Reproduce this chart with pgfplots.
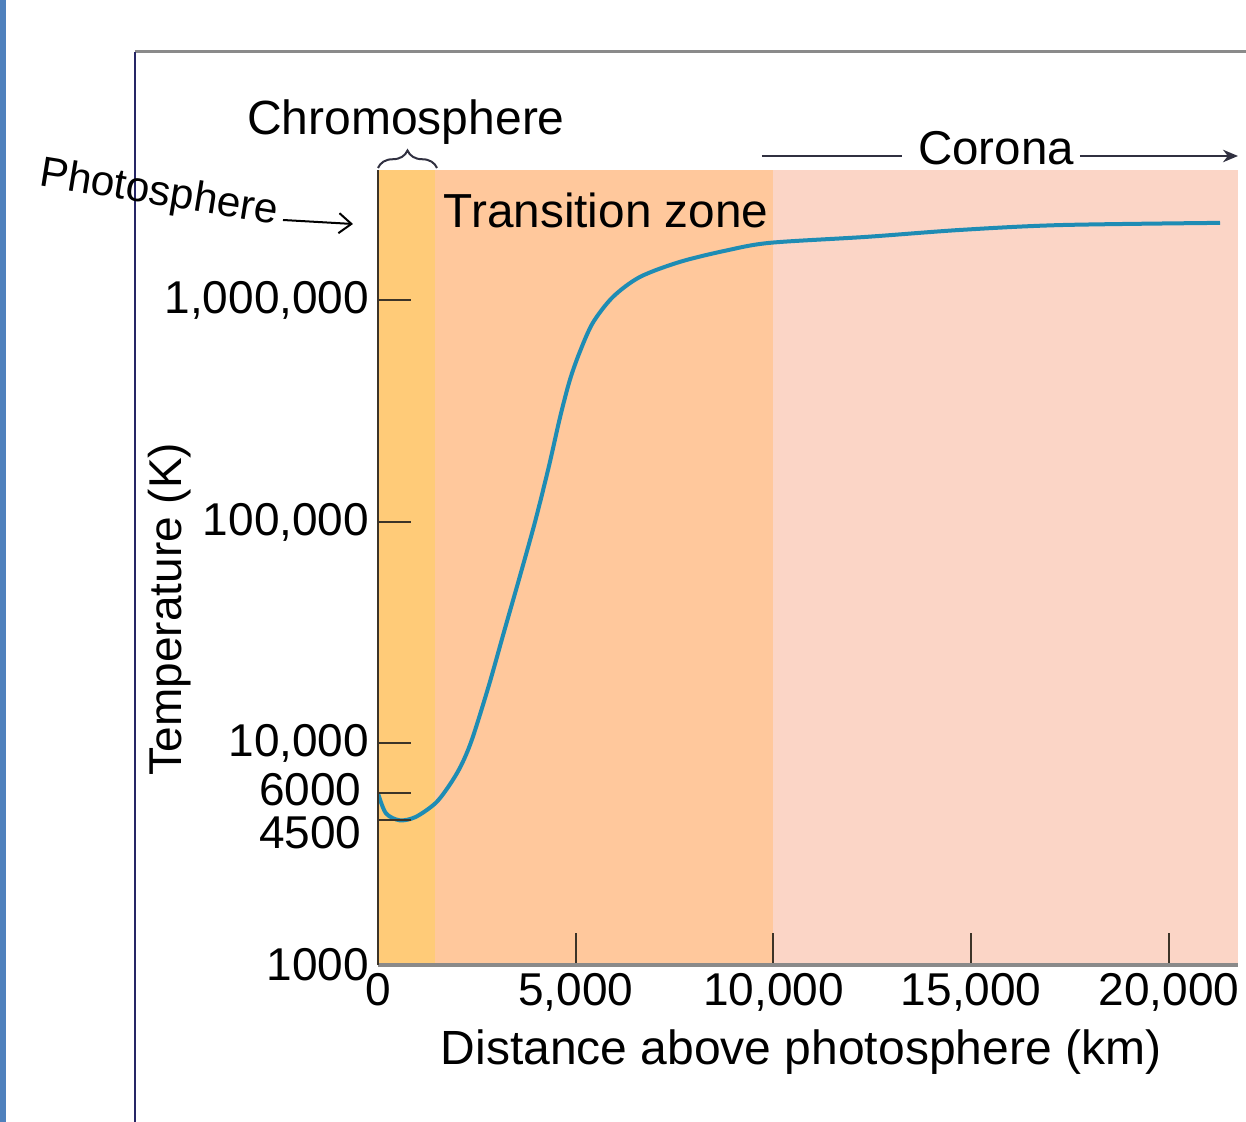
\documentclass[border=0pt]{standalone}
\usepackage{fontspec}
\setmainfont{Liberation Sans}
\usepackage{pgfplots}
\pgfplotsset{compat=1.18}
\usetikzlibrary{arrows.meta,decorations.pathreplacing}

\definecolor{chromo}{HTML}{FFCB78}
\definecolor{trans}{HTML}{FFC89C}
\definecolor{corona}{HTML}{FBD5C6}
\definecolor{curve}{HTML}{1E8CB4}
\definecolor{frameblue}{HTML}{4F81BD}
\definecolor{axisgray}{HTML}{8A8A8A}
\definecolor{axisdark}{HTML}{3C3428}
\definecolor{linedark}{HTML}{303040}

\begin{document}
\begin{tikzpicture}
\path[use as bounding box] (0,0) rectangle (498.4pt,448.8pt);

\begin{axis}[
  at={(151.2pt,62.8pt)}, anchor=south west,
  scale only axis, width=344pt, height=318pt,
  ymode=log, xmin=0, xmax=21745, ymin=1000, ymax=3.88e6,
  axis x line=bottom, axis y line=left,
  x axis line style={-, draw=axisgray, line width=1.4pt},
  y axis line style={-, draw=axisdark, line width=0.9pt},
  tick align=inside, major tick length=13pt,
  tick style={draw=axisdark, line width=0.8pt},
  yminorticks=false, xminorticks=false,
  scaled x ticks=false,
  xtick={0,5000,10000,15000,20000},
  xticklabels={0,{5,000},{10,000},{15,000},{20,000}},
  ytick={1000,4500,6000,10000,100000,1000000},
  yticklabels={1000,{},{},{10,000},{100,000},{1,000,000}},
  tick label style={font=\fontsize{18.4pt}{22pt}\selectfont},
  axis on top,
]
% regions
\addplot[draw=none, fill=chromo] coordinates {(0,1000) (1441,1000) (1441,3.88e6) (0,3.88e6)} -- cycle;
\addplot[draw=none, fill=trans] coordinates {(1441,1000) (10000,1000) (10000,3.88e6) (1441,3.88e6)} -- cycle;
\addplot[draw=none, fill=corona] coordinates {(10000,1000) (21745,1000) (21745,3.88e6) (10000,3.88e6)} -- cycle;

% temperature profile
\addplot[color=curve, line width=1.6pt, smooth, tension=0.5] coordinates {
  (0,5957) (200,4842) (550,4498) (950,4656) (1450,5370) (1800,6457)
  (2100,7943) (2380,10471) (2800,18197) (3180,31623) (3580,56234)
  (3970,100000) (4320,177828) (4600,295121) (4850,436516) (5108,588844)
  (5436,794328) (5942,1037528) (6625,1276439) (7636,1492794)
  (8800,1678804) (9912,1819701) (12364,1936422) (14716,2079697)
  (17244,2187762) (21290,2238721)
};
\end{axis}

\begin{scope}[x=0.4pt,y=0.4pt]
% page frame
\fill[frameblue] (0,0) rectangle (6,1122);
\draw[color=axisgray, line width=1.2pt] (135,1070) -- (1246,1070);
\draw[color=linedark!80!blue, line width=0.8pt] (135,1070) -- (135,0);

% tick labels set apart from their ticks, as in the figure
\node[anchor=east, inner sep=0pt, font=\fontsize{18.4pt}{22pt}\selectfont] at (362,332) {6000};
\node[anchor=east, inner sep=0pt, font=\fontsize{18.4pt}{22pt}\selectfont] at (362,289) {4500};

% region labels
\node[anchor=base, font=\fontsize{19.2pt}{23pt}\selectfont] at (406,987) {Chromosphere};
\draw[color=linedark, line width=0.8pt, decorate, decoration={brace, amplitude=7pt}]
  (378,954) -- (437,954);
\node[anchor=base west, font=\fontsize{19.1pt}{23pt}\selectfont] at (435,894) {Transition zone};
\node[anchor=base, font=\fontsize{19pt}{23pt}\selectfont] at (996,957) {Corona};
\draw[color=linedark, line width=0.8pt] (762,966) -- (902,966);
\draw[color=linedark, line width=0.8pt, -{Stealth[length=6pt,width=5pt]}] (1080,966) -- (1238,966);

\node[rotate=-9.2, font=\fontsize{17pt}{20pt}\selectfont] at (159,928) {Photosphere};
\draw[line width=0.8pt, -{Straight Barb[length=5pt,width=8pt]}] (283,902) -- (353,898);

% axis titles
\node[anchor=base, font=\fontsize{19.2pt}{23pt}\selectfont] at (801,57) {Distance above photosphere (km)};
\node[rotate=90, anchor=base, font=\fontsize{18.4pt}{22pt}\selectfont] at (182,513) {Temperature (K)};
\end{scope}
\end{tikzpicture}
\end{document}
